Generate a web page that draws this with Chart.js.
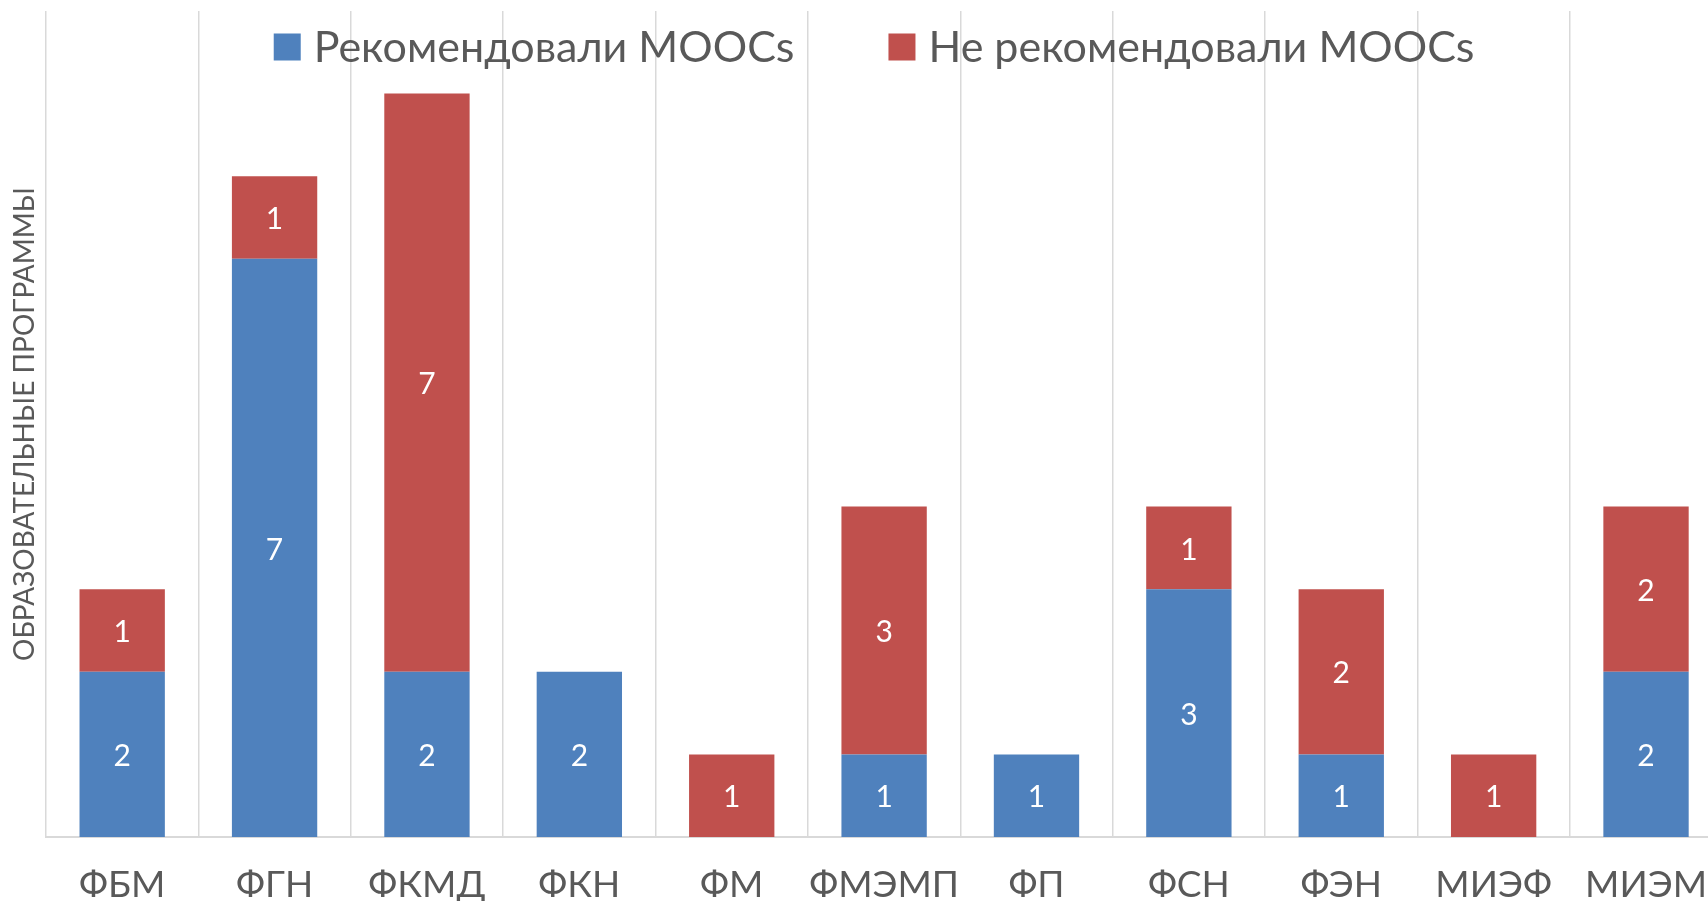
<!DOCTYPE html>
<html lang="ru">
<head>
<meta charset="utf-8">
<title>MOOCs по образовательным программам</title>
<script src="https://cdn.jsdelivr.net/npm/chart.js@4"></script>
<style>
  html, body { margin: 0; padding: 0; background: #fff; overflow: hidden; }
  .chart-wrap { position: relative; width: 1733px; height: 901px; }
</style>
</head>
<body>
<div class="chart-wrap">
  <canvas id="moocs-chart" width="1733" height="901"></canvas>
</div>
<script>
  // data
  const categories = ['ФБМ', 'ФГН', 'ФКМД', 'ФКН', 'ФМ', 'ФМЭМП', 'ФП', 'ФСН', 'ФЭН', 'МИЭФ', 'МИЭМ']
  const recommended = [2, 7, 2, 2, null, 1, 1, 3, 1, null, 2]
  const notRecommended = [1, 1, 7, null, 1, 3, null, 1, 2, 1, 2]
  const seriesLabels = ['Рекомендовали MOOCs', 'Не рекомендовали MOOCs']
  const yAxisTitle = 'ОБРАЗОВАТЕЛЬНЫЕ ПРОГРАММЫ'

  const FONT = 'Lato, "Open Sans", sans-serif'
  const TEXT_COLOUR = '#595959'
  const GRID_COLOUR = '#D9D9D9'
  const BLUE = '#4F81BD'
  const RED = '#C0504D'

  // white value labels in the middle of each segment
  const barValueLabels = {
    id: 'barValueLabels',
    afterDatasetsDraw(chart) {
      const { ctx } = chart
      ctx.save()
      ctx.font = `30px ${FONT}`
      ctx.fillStyle = '#FFFFFF'
      ctx.textAlign = 'center'
      ctx.textBaseline = 'middle'
      chart.data.datasets.forEach((ds, i) => {
        chart.getDatasetMeta(i).data.forEach((bar, j) => {
          const v = ds.data[j]
          if (!v) return
          const { x, y, base } = bar.getProps(['x', 'y', 'base'], true)
          ctx.fillText(String(v), x, (y + base) / 2 + 2)
        })
      })
      ctx.restore()
    },
  }

  // legend drawn over the plot area, like the original
  const overlayLegend = {
    id: 'overlayLegend',
    afterDraw(chart) {
      const { ctx, chartArea } = chart
      const box = 27
      const boxGap = 13
      const itemGap = 94
      ctx.save()
      ctx.font = `43px ${FONT}`
      ctx.textBaseline = 'middle'
      const items = chart.data.datasets.map((ds) => ({
        label: ds.label,
        colour: ds.backgroundColor,
        width: ctx.measureText(ds.label).width,
      }))
      const total = items.reduce((sum, it) => sum + box + boxGap + it.width, 0) + itemGap * (items.length - 1)
      let x = (chartArea.left + chartArea.right) / 2 - 10 - total / 2
      const cy = 47
      items.forEach((it) => {
        ctx.fillStyle = it.colour
        ctx.fillRect(x, cy - box / 2, box, box)
        x += box + boxGap
        ctx.fillStyle = TEXT_COLOUR
        ctx.fillText(it.label, x, cy + 1)
        x += it.width + itemGap
      })
      ctx.restore()
    },
  }

  const chart = new Chart(document.getElementById('moocs-chart'), {
    type: 'bar',
    data: {
      labels: categories,
      datasets: [
        { label: seriesLabels[0], data: recommended, backgroundColor: BLUE },
        { label: seriesLabels[1], data: notRecommended, backgroundColor: RED },
      ],
    },
    options: {
      responsive: false,
      animation: false,
      layout: { padding: { top: 11, right: 0, left: 0, bottom: 0 } },
      datasets: {
        bar: { barPercentage: 0.56, categoryPercentage: 1 },
      },
      plugins: {
        legend: { display: false },
        tooltip: { enabled: false },
      },
      scales: {
        x: {
          stacked: true,
          grid: { color: GRID_COLOUR, lineWidth: 1.5, offset: true, drawTicks: false },
          border: { color: GRID_COLOUR, width: 2 },
          ticks: {
            color: TEXT_COLOUR,
            font: { family: FONT, size: 37 },
            padding: 26,
            autoSkip: false,
            maxRotation: 0,
            minRotation: 0,
          },
          afterFit(scale) {
            scale.height = 64
          },
        },
        y: {
          stacked: true,
          min: 0,
          max: 10,
          grid: { display: false },
          border: { display: false },
          ticks: { display: false },
          title: {
            display: true,
            text: yAxisTitle,
            color: TEXT_COLOUR,
            font: { family: FONT, size: 28 },
            padding: { top: 8, bottom: 0 },
          },
          afterFit(scale) {
            scale.width = 46
          },
        },
      },
    },
    plugins: [barValueLabels, overlayLegend],
  })
</script>
</body>
</html>
